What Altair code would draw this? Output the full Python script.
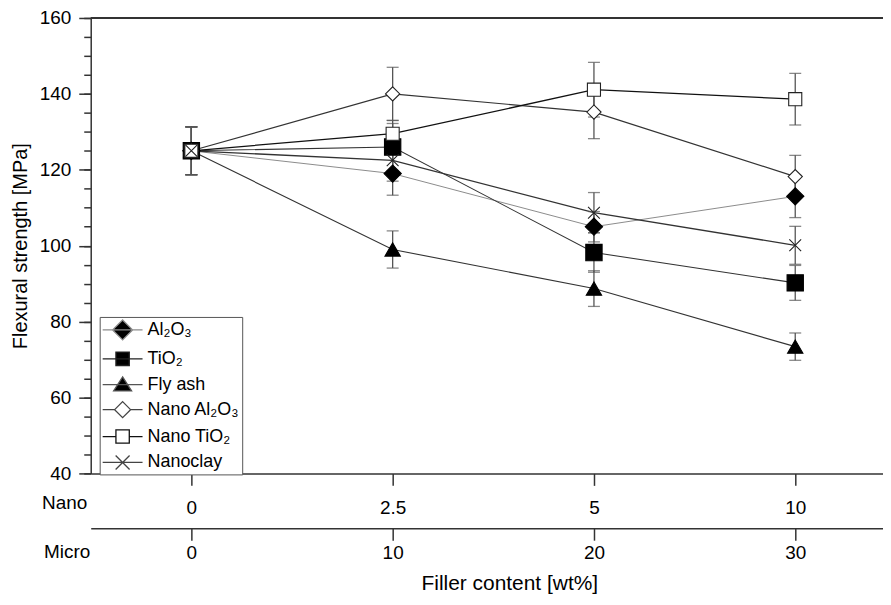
import json
import altair as alt
import pandas as pd

# ---------------- data ----------------
series = ["Al₂O₃", "TiO₂", "Fly ash", "Nano Al₂O₃", "Nano TiO₂", "Nanoclay"]
positions = [0, 1, 2, 3]
nano_ticks = ["0", "2.5", "5", "10"]
micro_ticks = ["0", "10", "20", "30"]
y_major = [40, 60, 80, 100, 120, 140, 160]
y_minor = list(range(40, 161, 5))

al2o3 = [125.0, 119.0, 105.0, 113.0]
al2o3_err = [6.3, 5.7, 4.0, 5.6]
tio2 = [125.0, 126.0, 98.2, 90.2]
tio2_err = [6.3, 6.2, 5.2, 4.6]
fly_ash = [125.0, 99.0, 88.7, 73.4]
fly_ash_err = [6.3, 4.9, 4.7, 3.6]
nano_al2o3 = [125.0, 140.0, 135.2, 118.2]
nano_al2o3_err = [6.3, 7.0, 7.0, 5.6]
nano_tio2 = [125.0, 129.5, 141.1, 138.6]
nano_tio2_err = [6.3, 3.5, 7.2, 6.8]
nanoclay = [125.0, 122.5, 108.7, 100.1]
nanoclay_err = [6.3, 5.5, 5.3, 5.0]

values = [al2o3, tio2, fly_ash, nano_al2o3, nano_tio2, nanoclay]
errors = [al2o3_err, tio2_err, fly_ash_err, nano_al2o3_err, nano_tio2_err, nanoclay_err]

rows = []
for s, vals, errs in zip(series, values, errors):
    for p, v, e in zip(positions, vals, errs):
        rows.append({"series": s, "pos": p, "value": v, "lo": v - e, "hi": v + e})
df = pd.DataFrame(rows)

# ---------------- styles ----------------
FONT = "Liberation Sans"
AX = "#333333"
x_cross = "M-1,-1L1,1M-1,1L1,-1"
marker_shapes = ["diamond", "square", "triangle-up", "diamond", "square", x_cross]
marker_fill = ["black", "black", "black", "white", "white", "transparent"]
marker_stroke = ["black", "black", "black", "#222222", "#222222", "#222222"]
marker_size = [300, 140, 300, 310, 140, 280]
line_color = ["#8c8c8c", "#333333", "#333333", "#333333", "#111111", "#333333"]
line_width = [1.0, 1.3, 1.3, 1.3, 2.0, 1.3]

# legend symbols: short line with the marker on it (units of 10 px)
legend_paths = [
    "M-1,0H3M1,-1L2,0L1,1L0,0Z",
    "M-1,0H3M0.33,-0.67H1.67V0.67H0.33Z",
    "M-1,0H3M1,-0.78L1.9,0.62H0.1Z",
    "M-1,0H0.2M1.8,0H3M1,-0.8L1.8,0L1,0.8L0.2,0Z",
    "M-1,0H0.33M1.67,0H3M0.33,-0.67H1.67V0.67H0.33Z",
    "M-1,0H3M0.3,-0.7L1.7,0.7M0.3,0.7L1.7,-0.7",
]
legend_fill = ["black", "black", "black", "white", "white", "transparent"]
legend_stroke = ["#8c8c8c", "#222222", "#555555", "#444444", "#111111", "#444444"]

xscale = alt.Scale(domain=[-0.5, 3.436], nice=False, zero=False)
yscale = alt.Scale(domain=[40, 160], nice=False, zero=False)

nano_axis = alt.Axis(
    orient="bottom", values=positions,
    labelExpr=json.dumps(nano_ticks) + "[datum.value]",
    tickSize=12, tickWidth=1.5, tickColor=AX, domainColor=AX, domainWidth=1.5,
    labelFont=FONT, labelFontSize=19, labelColor="black", labelBaseline="middle",
    labelPadding=22, grid=False,
    title="Nano", titleFont=FONT, titleFontSize=19, titleFontWeight="normal",
    titleColor="black", titleAlign="right", titleBaseline="middle",
    titleX=-4, titleY=29, titleAngle=0,
)
micro_axis = alt.Axis(
    orient="bottom", offset=55, values=positions,
    labelExpr=json.dumps(micro_ticks) + "[datum.value]",
    tickSize=12, tickWidth=1.5, tickColor=AX, domainColor=AX, domainWidth=1.5,
    labelFont=FONT, labelFontSize=19, labelColor="black", labelBaseline="middle",
    labelPadding=12, grid=False,
    title="Micro", titleFont=FONT, titleFontSize=19, titleFontWeight="normal",
    titleColor="black", titleAlign="right", titleBaseline="middle",
    titleX=-1, titleY=23, titleAngle=0,
)
y_axis = alt.Axis(
    orient="left", values=y_major,
    tickSize=12, tickWidth=1.5, tickColor=AX, domainColor=AX, domainWidth=1.5,
    labelFont=FONT, labelFontSize=19, labelColor="black", labelPadding=8,
    grid=False,
    title="Flexural strength [MPa]", titleFont=FONT, titleFontSize=20,
    titleFontWeight="normal", titleColor="black", titlePadding=9,
)
y_minor_axis = alt.Axis(
    orient="left", values=y_minor, tickSize=7, tickWidth=1.5, tickColor=AX,
    domain=False, labels=False, grid=False, title=None,
)

base = alt.Chart(df)

lines = base.mark_line().encode(
    x=alt.X("pos:Q", scale=xscale, axis=nano_axis),
    y=alt.Y("value:Q", scale=yscale, axis=y_axis),
    color=alt.Color("series:N", scale=alt.Scale(domain=series, range=line_color), legend=None),
    strokeWidth=alt.StrokeWidth("series:N", scale=alt.Scale(domain=series, range=line_width), legend=None),
)

bars = base.mark_errorbar(ticks=True, size=12, thickness=1.3, color="#555555").encode(
    x=alt.X("pos:Q", scale=xscale, axis=None),
    y=alt.Y("lo:Q", scale=yscale, axis=None),
    y2="hi:Q",
)

points = base.mark_point(filled=True, opacity=1, strokeWidth=1.1).encode(
    x=alt.X("pos:Q", scale=xscale, axis=None),
    y=alt.Y("value:Q", scale=yscale, axis=None),
    shape=alt.Shape("series:N", scale=alt.Scale(domain=series, range=marker_shapes), legend=None),
    fill=alt.Fill("series:N", scale=alt.Scale(domain=series, range=marker_fill), legend=None),
    stroke=alt.Stroke("series:N", scale=alt.Scale(domain=series, range=marker_stroke), legend=None),
    size=alt.Size("series:N", scale=alt.Scale(domain=series, range=marker_size), legend=None),
)

leg_kw = dict(
    title=None, orient="none", legendX=9, legendY=300,
    padding=2, strokeColor="#555555", fillColor="white",
    labelFont=FONT, labelFontSize=18, labelColor="black", labelOffset=24, labelLimit=0,
    symbolSize=400, symbolStrokeWidth=1.3, rowPadding=5,
)

# legend only: no rows drawn, entries come from the explicit scale domains
legend_layer = base.transform_filter("datum.pos < 0").mark_point(
    filled=True, size=400, opacity=1, strokeWidth=1.3
).encode(
    shape=alt.Shape("series:N", scale=alt.Scale(domain=series, range=legend_paths), legend=alt.Legend(**leg_kw)),
    fill=alt.Fill("series:N", scale=alt.Scale(domain=series, range=legend_fill), legend=alt.Legend(**leg_kw)),
    stroke=alt.Stroke("series:N", scale=alt.Scale(domain=series, range=legend_stroke), legend=alt.Legend(**leg_kw)),
)

# frame top line, also carries the minor y ticks
top = alt.Chart(pd.DataFrame({"v": [160]})).mark_rule(color=AX, strokeWidth=2).encode(
    y=alt.Y("v:Q", scale=yscale, axis=y_minor_axis),
)

micro = base.mark_point(opacity=0).encode(
    x=alt.X("pos:Q", scale=xscale, axis=micro_axis),
    y=alt.Y("value:Q", scale=yscale, axis=None),
)

chart = alt.layer(top, lines, bars, points, legend_layer, micro).resolve_scale(
    x="independent", y="independent", shape="independent", fill="independent", stroke="independent"
).properties(
    width=795, height=457,
    autosize=alt.AutoSizeParams(type="none"),
    padding={"left": 83, "top": 9, "right": 0, "bottom": 120},
    title=alt.TitleParams("Filler content [wt%]", orient="bottom", font=FONT, fontSize=21,
                          fontWeight="normal", color="black", dx=23, offset=11),
).configure(font=FONT, background="white").configure_view(stroke=None)

chart.save("out.html", embed_options={"renderer": "svg", "actions": False})
